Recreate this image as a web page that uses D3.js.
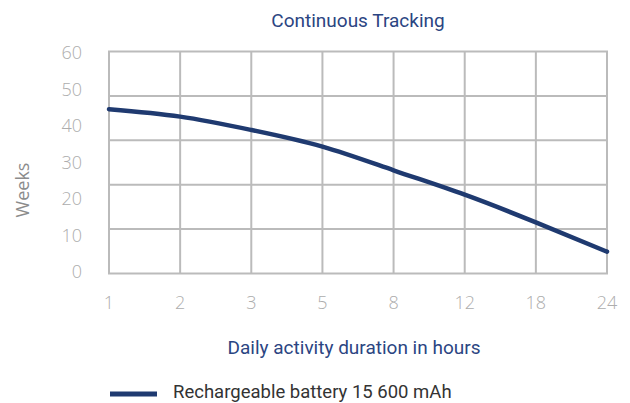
<!DOCTYPE html>
<meta charset="utf-8">
<style>
body { margin: 0; background: #fff; }
.grid line { stroke: #bbbbbb; stroke-width: 2px; }
.tick-label { fill: #adadad; font-family: "Open Sans", sans-serif; font-weight: 300; font-size: 18px; }
.line { fill: none; stroke: #1f3a70; stroke-width: 4.5px; stroke-linecap: round; }
</style>
<body>
<script src="https://d3js.org/d3.v7.min.js"></script>
<script>

// data
var hours = ["1", "2", "3", "5", "8", "12", "18", "24"];
var weeks = [44.4, 42.4, 38.8, 34.3, 27.9, 21.3, 13.8, 5.9];
var yLabels = [0, 10, 20, 30, 40, 50, 60];
var gridRows = [0, 12, 24, 36, 48, 60];   // grid has 5 rows, labels go every 10
var seriesName = "Rechargeable battery 15 600 mAh";

var width = 630, height = 403;
var plot = {left: 109, right: 607, top: 51.5, bottom: 273.5};

var svg = d3.select("body").append("svg")
    .attr("width", width)
    .attr("height", height);

// set the ranges
var x = d3.scalePoint().domain(hours).range([plot.left, plot.right]);
var y = d3.scaleLinear().domain([0, 60]).range([plot.bottom, plot.top]);
var yText = d3.scaleLinear().domain([0, 60]).range([272, 53]);

// grid
var grid = svg.append("g").attr("class", "grid");
grid.selectAll(".h").data(gridRows).enter().append("line")
    .attr("x1", plot.left - 1).attr("x2", plot.right + 1)
    .attr("y1", function(d) { return y(d); })
    .attr("y2", function(d) { return y(d); });
grid.selectAll(".v").data(hours).enter().append("line")
    .attr("x1", function(d) { return x(d); })
    .attr("x2", function(d) { return x(d); })
    .attr("y1", plot.top).attr("y2", plot.bottom);

// y labels
svg.selectAll(".ylab").data(yLabels).enter().append("text")
    .attr("class", "tick-label")
    .attr("x", 82)
    .attr("y", function(d) { return yText(d); })
    .attr("dy", "0.35em")
    .attr("text-anchor", "end")
    .text(function(d) { return d; });

// x labels
svg.selectAll(".xlab").data(hours).enter().append("text")
    .attr("class", "tick-label")
    .attr("x", function(d) { return x(d); })
    .attr("y", 303)
    .attr("dy", "0.35em")
    .attr("text-anchor", "middle")
    .text(function(d) { return d; });

// the line
var valueline = d3.line()
    .x(function(d, i) { return x(hours[i]); })
    .y(function(d) { return y(d); })
    .curve(d3.curveNatural);

svg.append("path")
    .datum(weeks)
    .attr("class", "line")
    .attr("d", valueline);

// titles
svg.append("text")
    .attr("x", (plot.left + plot.right) / 2)
    .attr("y", 27)
    .attr("text-anchor", "middle")
    .style("font-family", "Roboto, sans-serif")
    .style("font-size", "19px")
    .style("fill", "#2b4582")
    .text("Continuous Tracking");

svg.append("text")
    .attr("x", 354)
    .attr("y", 354)
    .attr("text-anchor", "middle")
    .style("font-family", "Roboto, sans-serif")
    .style("font-size", "19px")
    .style("fill", "#2b4582")
    .text("Daily activity duration in hours");

svg.append("text")
    .attr("transform", "translate(29,190) rotate(-90)")
    .attr("text-anchor", "middle")
    .style("font-family", "'Open Sans', sans-serif")
    .style("font-size", "18px")
    .style("fill", "#8c8c8c")
    .text("Weeks");

// legend
svg.append("line")
    .attr("x1", 110).attr("x2", 157)
    .attr("y1", 394).attr("y2", 394)
    .style("stroke", "#1f3a70")
    .style("stroke-width", 5);

svg.append("text")
    .attr("x", 173)
    .attr("y", 398)
    .style("font-family", "Roboto, sans-serif")
    .style("font-size", "18.5px")
    .style("fill", "#333")
    .text(seriesName);

</script>
</body>
